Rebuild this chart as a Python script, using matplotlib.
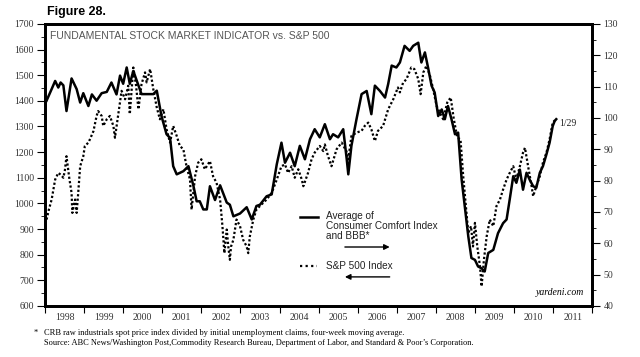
import numpy as np
import matplotlib
matplotlib.use("Agg")
import matplotlib.pyplot as plt
from matplotlib.ticker import MultipleLocator, FixedLocator

# Average of Consumer Comfort Index and BBB (right axis)
comfort_t = [1998.04, 1998.17, 1998.26, 1998.34, 1998.40, 1998.47, 1998.55, 1998.68, 1998.81, 1998.90,
             1998.98, 1999.11, 1999.20, 1999.32, 1999.45, 1999.58, 1999.70, 1999.83, 1999.92, 2000.00,
             2000.09, 2000.17, 2000.26, 2000.35, 2000.47, 2000.60, 2000.77, 2000.86, 2000.98, 2001.11,
             2001.20, 2001.28, 2001.37, 2001.54, 2001.67, 2001.80, 2001.88, 2001.96, 2002.05, 2002.14,
             2002.22, 2002.35, 2002.48, 2002.65, 2002.73, 2002.82, 2002.99, 2003.16, 2003.29, 2003.41,
             2003.50, 2003.67, 2003.80, 2003.93, 2004.05, 2004.14, 2004.27, 2004.39, 2004.52, 2004.65,
             2004.78, 2004.90, 2005.03, 2005.16, 2005.29, 2005.37, 2005.50, 2005.63, 2005.72, 2005.76,
             2005.84, 2005.97, 2006.10, 2006.23, 2006.35, 2006.44, 2006.57, 2006.70, 2006.78, 2006.87,
             2006.99, 2007.08, 2007.20, 2007.33, 2007.42, 2007.55, 2007.63, 2007.72, 2007.80, 2007.89,
             2007.97, 2008.06, 2008.15, 2008.23, 2008.31, 2008.40, 2008.49, 2008.57, 2008.66, 2008.74,
             2008.83, 2008.91, 2009.00, 2009.08, 2009.17, 2009.25, 2009.34, 2009.47, 2009.59, 2009.72,
             2009.81, 2009.89, 2009.98, 2010.06, 2010.15, 2010.23, 2010.32, 2010.40, 2010.49, 2010.57,
             2010.66, 2010.74, 2010.83, 2010.91, 2010.99, 2011.04, 2011.08]
comfort_v = [105.5, 109.2, 111.8, 109.7, 111.3, 110.4, 102.2, 112.6, 109.2, 104.9,
             107.9, 103.8, 107.5, 105.5, 107.9, 108.3, 111.3, 107.5, 113.5, 110.9,
             116.1, 110.9, 115.0, 111.8, 107.6, 107.6, 107.6, 108.7, 100.6, 94.8,
             93.6, 84.6, 82.0, 83.0, 84.6, 78.2, 73.4, 73.4, 70.8, 70.8,
             78.2, 73.8, 78.5, 73.0, 72.3, 68.6, 69.5, 71.5, 67.6, 71.9,
             72.3, 75.0, 75.6, 85.2, 92.1, 85.7, 88.9, 84.6, 91.1, 86.8,
             93.2, 96.4, 93.8, 98.0, 93.2, 94.8, 93.8, 96.4, 86.8, 82.0,
             91.1, 99.6, 107.6, 108.6, 101.2, 110.3, 108.6, 106.5, 110.8, 116.7,
             116.1, 117.7, 123.0, 121.4, 123.0, 124.0, 117.7, 120.9, 116.1, 110.3,
             108.1, 100.6, 102.7, 99.6, 103.8, 99.6, 94.8, 95.3, 80.3, 71.8,
             62.2, 55.3, 54.7, 52.6, 52.0, 51.0, 56.9, 57.9, 63.2, 66.4,
             67.6, 74.0, 81.4, 79.3, 83.5, 77.1, 82.5, 80.3, 78.2, 77.7,
             82.5, 84.6, 88.4, 92.1, 97.4, 99.0, 99.6]

# S&P 500 Index (left axis)
spx_t = [1998.04, 1998.10, 1998.17, 1998.26, 1998.34, 1998.40, 1998.47, 1998.51, 1998.55, 1998.62,
         1998.68, 1998.70, 1998.77, 1998.81, 1998.85, 1998.90, 1998.98, 1999.02, 1999.11, 1999.15,
         1999.24, 1999.32, 1999.36, 1999.45, 1999.49, 1999.58, 1999.66, 1999.75, 1999.79, 1999.88,
         1999.96, 2000.05, 2000.13, 2000.17, 2000.26, 2000.33, 2000.39, 2000.47, 2000.56, 2000.60,
         2000.69, 2000.77, 2000.86, 2000.94, 2001.03, 2001.11, 2001.20, 2001.28, 2001.37, 2001.45,
         2001.54, 2001.62, 2001.71, 2001.75, 2001.84, 2001.92, 2002.00, 2002.09, 2002.22, 2002.30,
         2002.39, 2002.48, 2002.54, 2002.59, 2002.65, 2002.69, 2002.73, 2002.76, 2002.82, 2002.90,
         2002.99, 2003.07, 2003.16, 2003.20, 2003.24, 2003.33, 2003.41, 2003.54, 2003.67, 2003.80,
         2003.93, 2004.05, 2004.14, 2004.22, 2004.31, 2004.39, 2004.48, 2004.57, 2004.61, 2004.73,
         2004.82, 2004.90, 2005.03, 2005.12, 2005.16, 2005.24, 2005.33, 2005.46, 2005.59, 2005.71,
         2005.76, 2005.84, 2005.97, 2006.10, 2006.18, 2006.27, 2006.35, 2006.44, 2006.52, 2006.65,
         2006.78, 2006.91, 2007.03, 2007.08, 2007.16, 2007.25, 2007.37, 2007.45, 2007.55, 2007.61,
         2007.68, 2007.76, 2007.85, 2007.93, 2008.02, 2008.10, 2008.19, 2008.29, 2008.38, 2008.46,
         2008.55, 2008.63, 2008.70, 2008.77, 2008.83, 2008.90, 2008.95, 2009.00, 2009.06, 2009.13,
         2009.17, 2009.23, 2009.30, 2009.38, 2009.47, 2009.55, 2009.64, 2009.72, 2009.81, 2009.89,
         2009.98, 2010.06, 2010.15, 2010.23, 2010.28, 2010.36, 2010.45, 2010.49, 2010.57, 2010.66,
         2010.74, 2010.83, 2010.91, 2010.99, 2011.07]
spx_v = [937, 976, 1015, 1093, 1119, 1112, 1100, 1130, 1184, 1100,
         1041, 963, 1015, 963, 1041, 1145, 1184, 1224, 1237, 1250,
         1282, 1341, 1360, 1341, 1302, 1328, 1341, 1302, 1256, 1354,
         1439, 1406, 1459, 1348, 1530, 1459, 1367, 1465, 1511, 1472,
         1524, 1446, 1374, 1328, 1367, 1289, 1237, 1302, 1263, 1224,
         1211, 1145, 1093, 976, 1106, 1159, 1172, 1133, 1165, 1106,
         1080, 1015, 911, 806, 898, 832, 780, 832, 858, 937,
         911, 858, 832, 806, 871, 937, 976, 996, 1015, 1041,
         1093, 1145, 1152, 1119, 1145, 1100, 1133, 1093, 1067, 1119,
         1172, 1198, 1224, 1204, 1230, 1185, 1145, 1211, 1237, 1204,
         1172, 1263, 1276, 1283, 1302, 1315, 1289, 1243, 1283, 1302,
         1367, 1406, 1452, 1433, 1470, 1485, 1530, 1524, 1485, 1426,
         1511, 1537, 1498, 1446, 1380, 1354, 1328, 1393, 1413, 1328,
         1256, 1250, 1106, 989, 884, 911, 832, 924, 832, 754,
         676, 780, 871, 937, 911, 989, 1015, 1054, 1093, 1119,
         1145, 1093, 1145, 1198, 1217, 1145, 1067, 1028, 1067, 1106,
         1159, 1198, 1250, 1315, 1328]

year_labels = [str(y) for y in range(1998, 2012)]

fig = plt.figure(figsize=(6.4, 3.57), dpi=100)
ax = fig.add_axes([0.0703, 0.143, 0.855, 0.79])
ax2 = ax.twinx()

ax.plot(spx_t, spx_v, color="black", linestyle=(0, (1, 1)), linewidth=1.6)
ax2.plot(comfort_t, comfort_v, color="black", linestyle="-", linewidth=1.8)

ax.set_xlim(1998.0, 2012.0)
ax.set_ylim(600, 1700)
ax2.set_ylim(40, 130)

serif = "Liberation Serif"
ax.yaxis.set_major_locator(MultipleLocator(100))
ax.yaxis.set_minor_locator(MultipleLocator(50))
ax2.yaxis.set_major_locator(MultipleLocator(10))
ax2.yaxis.set_minor_locator(MultipleLocator(5))
ax.xaxis.set_major_locator(FixedLocator(np.arange(1998, 2013)))
ax.xaxis.set_minor_locator(FixedLocator(np.arange(1998, 2012) + 0.5))
ax.set_xticklabels([])
ax.set_xticklabels(year_labels, minor=True)
ax.tick_params(axis="x", which="major", length=5, width=0.8, direction="out")
ax.tick_params(axis="x", which="minor", length=0, pad=5, labelsize=7)
ax.tick_params(axis="y", which="major", length=6, width=0.8, labelsize=7, pad=2)
ax.tick_params(axis="y", which="minor", length=3, width=0.6)
ax2.tick_params(axis="y", which="major", length=6, width=0.8, labelsize=7, pad=2)
ax2.tick_params(axis="y", which="minor", length=3, width=0.6)
for lab in ax.get_xticklabels(minor=True) + ax.get_yticklabels() + ax2.get_yticklabels():
    lab.set_fontfamily(serif)
    lab.set_color("#333333")

for a in (ax, ax2):
    for s in a.spines.values():
        s.set_linewidth(2)

fig.text(0.073, 0.965, "Figure 28.", fontsize=9, fontweight="bold", family="Liberation Sans",
         va="center")
ax.text(0.01, 0.975, "FUNDAMENTAL STOCK MARKET INDICATOR vs. S&P 500", transform=ax.transAxes,
        fontsize=7.5, color="#555555", va="top", family="Liberation Sans")

# legend-like annotations
ax.plot([0.466, 0.499], [0.316, 0.316], transform=ax.transAxes, color="black", lw=1.8)
ax.text(0.514, 0.338, "Average of\nConsumer Comfort Index\nand BBB*", transform=ax.transAxes,
        fontsize=7.2, va="top", ha="left", linespacing=1.0, family="Liberation Sans", color="#222222")
ax.annotate("", xy=(0.635, 0.209), xytext=(0.543, 0.209), xycoords="axes fraction",
            arrowprops=dict(arrowstyle="-|>", color="black", lw=1.0, mutation_scale=8))
ax.plot([0.466, 0.497], [0.142, 0.142], transform=ax.transAxes, color="black",
        linestyle=(0, (1, 1.5)), lw=1.6)
ax.text(0.514, 0.142, "S&P 500 Index", transform=ax.transAxes, fontsize=7.2, va="center",
        ha="left", family="Liberation Sans", color="#222222")
ax.annotate("", xy=(0.543, 0.103), xytext=(0.635, 0.103), xycoords="axes fraction",
            arrowprops=dict(arrowstyle="-|>", color="black", lw=1.0, mutation_scale=8))

ax2.text(2011.15, 98.3, "1/29", fontsize=7, family=serif, va="center", ha="left", color="#222222")
ax.text(0.985, 0.03, "yardeni.com", transform=ax.transAxes, fontsize=7, style="italic",
        family=serif, ha="right", va="bottom")

fig.text(0.052, 0.067, "*", fontsize=6, family=serif, va="center")
fig.text(0.069, 0.067, "CRB raw industrials spot price index divided by initial unemployment claims, "
         "four-week moving average.", fontsize=6, family=serif, va="center")
fig.text(0.069, 0.039, "Source: ABC News/Washington Post,Commodity Research Bureau, Department of Labor, "
         "and Standard & Poor\u2019s Corporation.", fontsize=6, family=serif, va="center")

fig.savefig("out.png", dpi=100)
